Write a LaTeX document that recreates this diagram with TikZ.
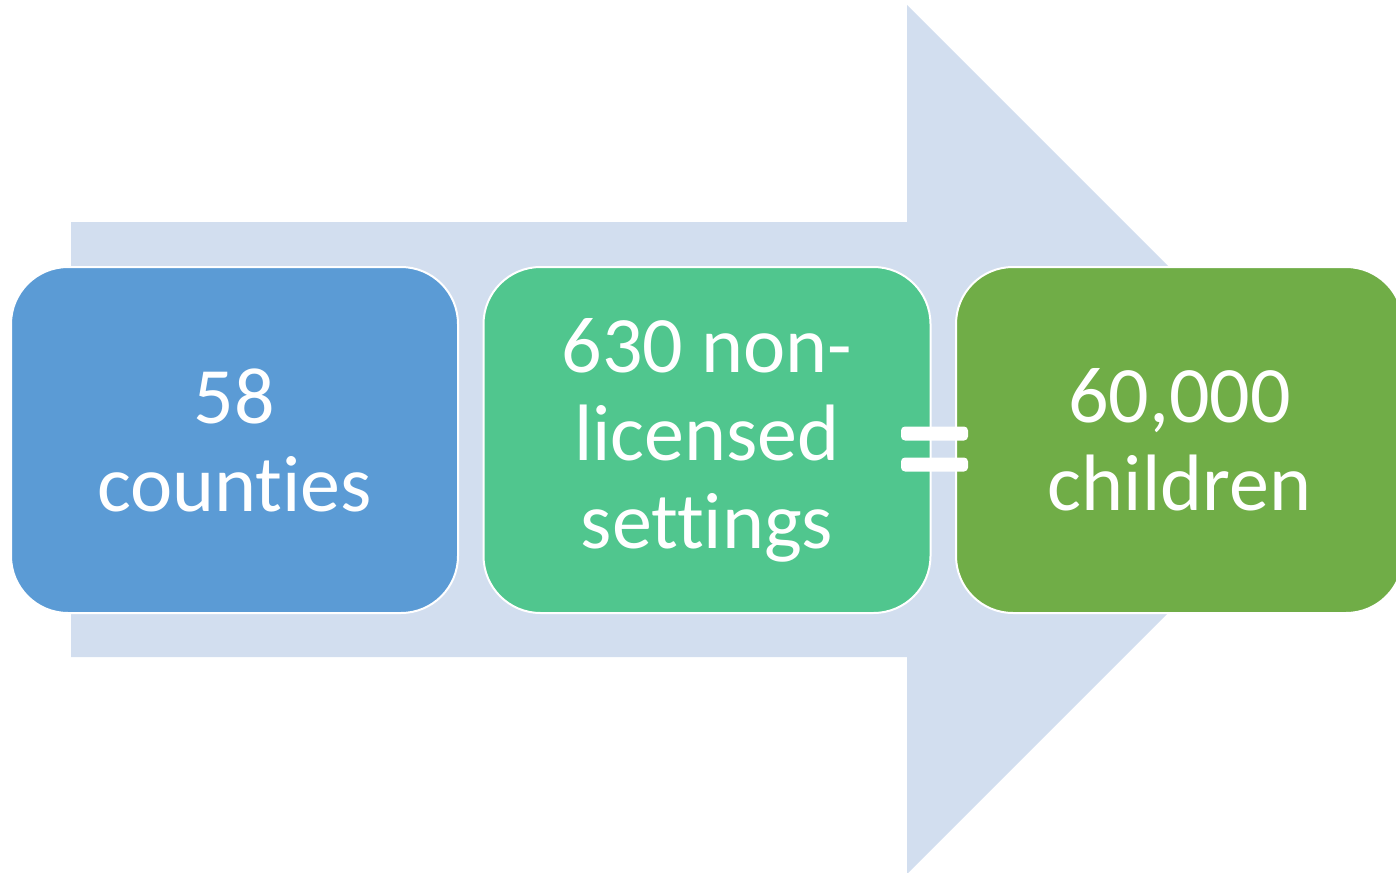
\documentclass[tikz,border=0pt]{standalone}
\usepackage{fontspec}
\setmainfont{Carlito}[Ligatures={NoCommon}]
\definecolor{arrowc}{HTML}{D2DEEF}
\definecolor{bluebox}{HTML}{5B9BD5}
\definecolor{tealbox}{HTML}{50C68E}
\definecolor{greenbox}{HTML}{70AD47}
\tikzset{
  stagebox/.style={rounded corners=57pt, draw=white, line width=2pt,
    minimum width=447pt, minimum height=346pt, inner sep=0pt,
    text=white, align=center, font=\fontsize{80}{88}\selectfont},
  eqbar/.style={fill=white, draw=none, rounded corners=4pt,
    minimum width=67pt, minimum height=14pt, inner sep=0pt}
}
\begin{document}
\begin{tikzpicture}[x=1pt,y=-1pt]
\useasboundingbox (0,0) rectangle (1396,872);
\clip (0,0) rectangle (1396,872);
\fill[arrowc] (71,222) -- (907,222) -- (907,5) -- (1341.5,439.5) -- (907,874) -- (907,657) -- (71,657) -- cycle;
\node[stagebox, fill=bluebox] (b1) at (234.5,440) {58\\counties};
\node[stagebox, fill=tealbox] (b2) at (707,440) {630 non-\\licensed\\settings};
\node[stagebox, fill=greenbox] (b3) at (1179.5,440) {60,000\\children};
\node[eqbar] (eq1) at (934.5,433.5) {};
\node[eqbar] (eq2) at (934.5,464.5) {};
\end{tikzpicture}
\end{document}
